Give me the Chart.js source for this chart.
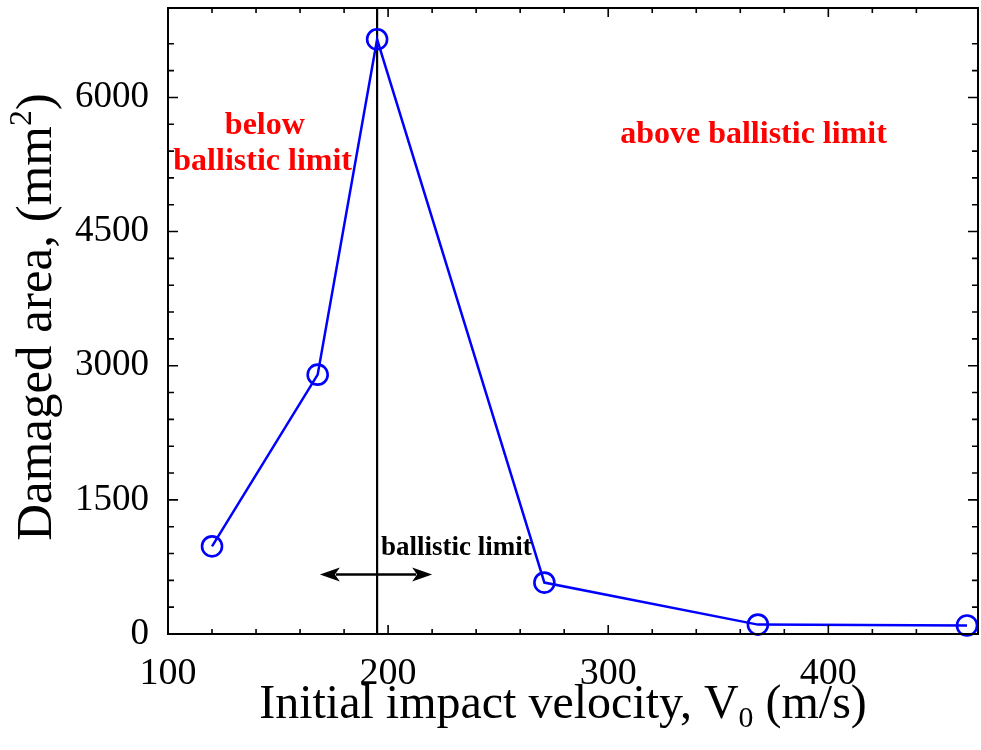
<!DOCTYPE html>
<html>
<head>
<meta charset="utf-8">
<script src="https://cdn.jsdelivr.net/npm/chart.js@4.4.1/dist/chart.umd.min.js"></script>
<style>
  html, body { margin: 0; padding: 0; background: #fff; }
</style>
</head>
<body>
<canvas id="areaChart" width="981" height="750"></canvas>
<script>
// data
const velocity = [120, 168, 195, 271, 368, 463];      // m/s
const damagedArea = [980, 2900, 6650, 575, 105, 95];  // mm^2
const xTickLabels = [100, 200, 300, 400];
const yTickLabels = [0, 1500, 3000, 4500, 6000];
const ballisticLimit = 195;
const arrowSpan = [169, 220];
const arrowLevel = 665;

const serif = "'Liberation Serif', 'Times New Roman', serif";

// inward ticks on all four sides + frame
const frameTicks = {
  id: 'frameTicks',
  afterDraw(chart) {
    const { ctx, chartArea: a, scales: { x, y } } = chart;
    ctx.save();
    ctx.strokeStyle = '#000';
    ctx.lineWidth = 2;
    ctx.strokeRect(a.left, a.top, a.right - a.left, a.bottom - a.top);
    ctx.lineWidth = 1.6;
    ctx.beginPath();
    x.ticks.forEach(t => {
      if (t.value % 20 !== 0) return;
      const px = x.getPixelForValue(t.value);
      const len = xTickLabels.includes(t.value) ? 9 : 5;
      ctx.moveTo(px, a.bottom); ctx.lineTo(px, a.bottom - len);
      ctx.moveTo(px, a.top); ctx.lineTo(px, a.top + len);
    });
    y.ticks.forEach(t => {
      if (t.value % 300 !== 0) return;
      const py = y.getPixelForValue(t.value);
      const len = yTickLabels.includes(t.value) ? 10 : 6;
      ctx.moveTo(a.left, py); ctx.lineTo(a.left + len, py);
      ctx.moveTo(a.right, py); ctx.lineTo(a.right - len, py);
    });
    ctx.stroke();
    ctx.restore();
  }
};

// text with a raised / lowered small piece
function richText(ctx, parts, size, cx, baseY) {
  let total = 0;
  parts.forEach(p => {
    ctx.font = (p.small ? size * 0.62 : size) + 'px ' + serif;
    p.w = ctx.measureText(p.t).width;
    total += p.w;
  });
  let cur = cx - total / 2;
  ctx.textAlign = 'left';
  ctx.textBaseline = 'alphabetic';
  parts.forEach(p => {
    ctx.font = (p.small ? size * 0.62 : size) + 'px ' + serif;
    ctx.fillText(p.t, cur, baseY + (p.dy || 0) * size);
    cur += p.w;
  });
}

const annotations = {
  id: 'annotations',
  beforeDatasetsDraw(chart) {
    const { ctx, chartArea: a, scales: { x } } = chart;
    const px = x.getPixelForValue(ballisticLimit);
    ctx.save();
    ctx.strokeStyle = '#000';
    ctx.lineWidth = 2.2;
    ctx.beginPath();
    ctx.moveTo(px, a.top); ctx.lineTo(px, a.bottom);
    ctx.stroke();
    ctx.restore();
  },
  afterDraw(chart) {
    const { ctx, chartArea: a, scales: { x, y } } = chart;
    ctx.save();

    // double arrow
    const x1 = x.getPixelForValue(arrowSpan[0]);
    const x2 = x.getPixelForValue(arrowSpan[1]);
    const ay = y.getPixelForValue(arrowLevel);
    const hl = 20, hw = 7;
    ctx.strokeStyle = '#000';
    ctx.fillStyle = '#000';
    ctx.lineWidth = 2.5;
    ctx.beginPath();
    ctx.moveTo(x1 + hl - 4, ay); ctx.lineTo(x2 - hl + 4, ay);
    ctx.stroke();
    ctx.beginPath();
    ctx.moveTo(x1, ay); ctx.lineTo(x1 + hl, ay - hw); ctx.lineTo(x1 + hl - 5, ay); ctx.lineTo(x1 + hl, ay + hw);
    ctx.closePath(); ctx.fill();
    ctx.beginPath();
    ctx.moveTo(x2, ay); ctx.lineTo(x2 - hl, ay - hw); ctx.lineTo(x2 - hl + 5, ay); ctx.lineTo(x2 - hl, ay + hw);
    ctx.closePath(); ctx.fill();

    // labels in the plot
    ctx.textAlign = 'center';
    ctx.textBaseline = 'alphabetic';
    ctx.font = 'bold 27px ' + serif;
    ctx.fillText('ballistic limit', x.getPixelForValue(231), y.getPixelForValue(884));
    ctx.fillStyle = '#ff0000';
    ctx.font = 'bold 32px ' + serif;
    ctx.fillText('below', x.getPixelForValue(144), y.getPixelForValue(5586));
    ctx.fillText('ballistic limit', x.getPixelForValue(143), y.getPixelForValue(5194));
    ctx.fillText('above ballistic limit', x.getPixelForValue(366), y.getPixelForValue(5485));

    // axis titles
    ctx.fillStyle = '#000';
    richText(ctx, [
      { t: 'Initial impact velocity, V' },
      { t: '0', small: true, dy: 0.18 },
      { t: ' (m/s)' }
    ], 48, 563, 718);

    ctx.translate(51, 317);
    ctx.rotate(-Math.PI / 2);
    richText(ctx, [
      { t: 'Damaged area, (mm' },
      { t: '2', small: true, dy: -0.4 },
      { t: ')' }
    ], 51, 0, 0);
    ctx.restore();
  }
};

const ctx = document.getElementById('areaChart').getContext('2d');
new Chart(ctx, {
  type: 'scatter',
  data: {
    datasets: [{
      label: 'Damaged area',
      data: velocity.map((v, i) => ({ x: v, y: damagedArea[i] })),
      showLine: true,
      borderColor: '#0000ff',
      borderWidth: 2.5,
      tension: 0,
      pointStyle: 'circle',
      pointRadius: 10,
      pointHoverRadius: 10,
      pointBorderWidth: 2.6,
      pointBorderColor: '#0000ff',
      pointBackgroundColor: 'rgba(0,0,0,0)',
      clip: false
    }]
  },
  options: {
    responsive: false,
    animation: false,
    layout: { autoPadding: false, padding: { left: 0, right: 3, top: 8, bottom: 0 } },
    plugins: {
      legend: { display: false },
      tooltip: { enabled: false }
    },
    scales: {
      x: {
        type: 'linear',
        min: 100,
        max: 468,
        grid: { display: false },
        border: { display: false },
        afterFit: s => {
          s.height = 116;
          s.paddingLeft = 0; s.paddingRight = 0;
        },
        ticks: {
          stepSize: 20,
          autoSkip: false,
          maxRotation: 0,
          padding: 9,
          color: '#000',
          font: { family: serif, size: 38 },
          callback: v => xTickLabels.includes(v) ? String(v) : ''
        }
      },
      y: {
        type: 'linear',
        min: 0,
        max: 7000,
        grid: { display: false },
        border: { display: false },
        afterFit: s => {
          s.width = 168;
          s.paddingTop = 0; s.paddingBottom = 0;
        },
        ticks: {
          stepSize: 300,
          autoSkip: false,
          padding: 11,
          color: '#000',
          font: { family: serif, size: 37 },
          callback: v => yTickLabels.includes(v) ? String(v) : ''
        }
      }
    }
  },
  plugins: [frameTicks, annotations]
});
</script>
</body>
</html>
